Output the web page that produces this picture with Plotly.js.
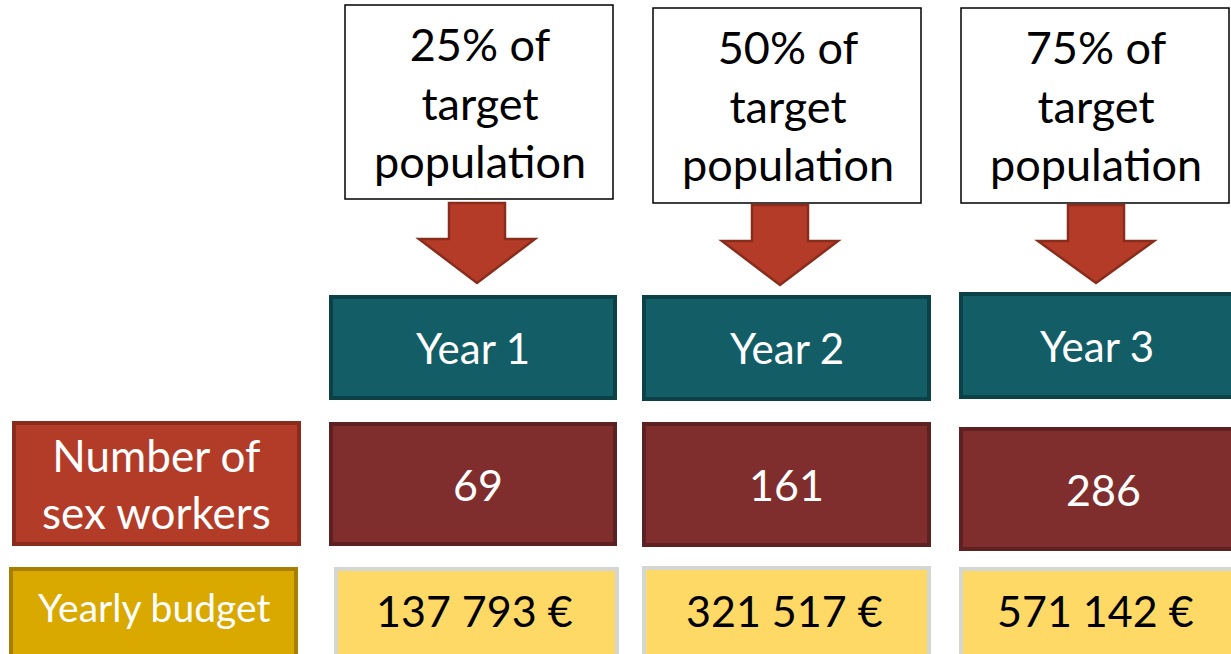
<!DOCTYPE html>
<html><head><meta charset="utf-8">
<script src="https://cdn.plot.ly/plotly-3.0.1.min.js"></script>
<style>html,body{margin:0;padding:0;background:#fff;}</style>
</head><body><div id="chart" style="width:1231px;height:654px;"></div>
<script>
// ---- data ----
const years = ['Year 1', 'Year 2', 'Year 3'];
const coveragePct = [25, 50, 75];
const sexWorkers = [69, 161, 286];
const yearlyBudget = [137793, 321517, 571142];
const rowLabels = ['Number of<br>sex workers', 'Yearly budget'];

// ---- layout geometry (pixel-like coordinates) ----
const topBox = [[345, 613, 5, 199], [653, 921, 8, 203], [961, 1229, 8, 203]];
const arrowCx = [477, 780, 1096];
const arrowTop = [203, 205, 205];
const arrowTip = [283, 285, 283];
const yearBox = [[331, 615, 297, 398], [644, 929, 297, 399], [961, 1233, 294, 397]];
const numBox = [[331, 615, 424, 544], [644, 929, 424, 545], [961, 1233, 429, 549]];
const budBox = [[336, 617, 569, 660], [644, 929, 568, 660], [961, 1233, 569, 660]];
const labelBoxes = [[14, 299, 423, 544], [11, 296, 569, 660]];
const numTextDx = [5, 0, 6];

const FONT = 'Lato, "Open Sans", sans-serif';
const fmtBudget = v => String(v).replace(/\B(?=(\d{3})+(?!\d))/g, ' ') + ' €';

const shapes = [];
const annotations = [];
function rect(b, fill, line, lw) {
  shapes.push({type: 'rect', xref: 'x', yref: 'y', x0: b[0], x1: b[1], y0: b[2], y1: b[3],
    fillcolor: fill, line: {color: line, width: lw}, layer: 'above'});
}
function label(b, text, size, color, dx) {
  annotations.push({xref: 'x', yref: 'y', x: (b[0] + b[1]) / 2 + (dx || 0), y: (b[2] + Math.min(b[3], 654)) / 2,
    text: text, showarrow: false, xanchor: 'center', yanchor: 'middle',
    font: {family: FONT, size: size, color: color}});
}

years.forEach((yr, i) => {
  rect(topBox[i], '#ffffff', '#000000', 1.5);
  label(topBox[i], coveragePct[i] + '% of<br>target<br>population', 45, '#000000', 1);

  const cx = arrowCx[i], t = arrowTop[i], tip = arrowTip[i];
  const sh = 28, hw = 58, neck = t + 36;
  shapes.push({type: 'path', xref: 'x', yref: 'y',
    path: `M ${cx - sh},${t} L ${cx + sh},${t} L ${cx + sh},${neck} L ${cx + hw},${neck} L ${cx},${tip} L ${cx - hw},${neck} L ${cx - sh},${neck} Z`,
    fillcolor: '#B43B27', line: {color: '#8A2C1C', width: 2.5}, layer: 'above'});

  rect(yearBox[i], '#135E66', '#0C4147', 4);
  label(yearBox[i], yr, 42, '#ffffff');

  rect(numBox[i], '#7F2E2D', '#5C2120', 4);
  label(numBox[i], String(sexWorkers[i]), 43, '#ffffff', numTextDx[i]);

  rect(budBox[i], '#FFD966', '#D3D6D1', 4);
  label([budBox[i][0], budBox[i][1], budBox[i][2], 652], fmtBudget(yearlyBudget[i]), 43, '#000000', -2);
});

rect(labelBoxes[0], '#B33C28', '#8A2B1E', 4);
label(labelBoxes[0], rowLabels[0], 44, '#ffffff');
rect(labelBoxes[1], '#D9A900', '#A67E00', 4);
label([labelBoxes[1][0], labelBoxes[1][1], labelBoxes[1][2], 644], rowLabels[1], 39, '#ffffff');

const layout = {
  width: 1231, height: 654,
  margin: {l: 0, r: 0, t: 0, b: 0},
  paper_bgcolor: '#ffffff', plot_bgcolor: '#ffffff',
  showlegend: false,
  xaxis: {range: [0, 1231], visible: false, fixedrange: true},
  yaxis: {range: [654, 0], visible: false, fixedrange: true},
  shapes: shapes,
  annotations: annotations
};
Plotly.newPlot('chart', [{x: [0], y: [0], mode: 'markers', marker: {opacity: 0}, hoverinfo: 'skip'}],
  layout, {displayModeBar: false, staticPlot: true});
</script></body></html>
